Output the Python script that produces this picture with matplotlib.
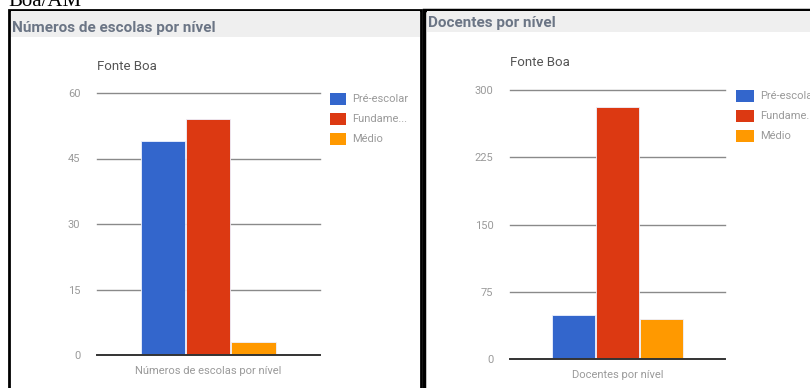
import matplotlib
matplotlib.use("Agg")
import matplotlib.pyplot as plt
from matplotlib.patches import Rectangle
from matplotlib import font_manager

W, H = 810, 388
fig = plt.figure(figsize=(W / 100, H / 100), dpi=100)

avail = {f.name for f in font_manager.fontManager.ttflist}
FONT = "Liberation Sans Narrow" if "Liberation Sans Narrow" in avail else "Roboto"

# ---- data ----
series = ["Pré-escolar", "Fundame...", "Médio"]
colors = ["#3366cc", "#dc3912", "#ff9900"]
escolas_vals = [49, 54, 3]
escolas_ticks = [0, 15, 30, 45, 60]
docentes_vals = [49, 281, 45]
docentes_ticks = [0, 75, 150, 225, 300]

def fx(px):
    return px / W

def fy(py):
    return 1 - py / H

def frect(x0, y0, x1, y1, z=-2, **kw):
    r = Rectangle((fx(x0), fy(y1)), fx(x1) - fx(x0), fy(y0) - fy(y1),
                  transform=fig.transFigure, figure=fig, zorder=z, **kw)
    fig.patches.append(r)

# outer header text (clipped)
fig.text(fx(8), fy(2), "Boa/AM", family="Liberation Serif", fontsize=15, color="black",
         va="center", ha="left")

# panels
frect(9, 10, 421, 400, facecolor="white", edgecolor="black", linewidth=2)
frect(11, 11, 420, 37, facecolor="#efefef", edgecolor="none")
frect(424, 10, 830, 400, facecolor="white", edgecolor="black", linewidth=2.5)
frect(427, 11, 830, 32, facecolor="#efefef", edgecolor="none")

fig.text(fx(12), fy(32), "Números de escolas por nível", fontsize=11, fontweight="bold",
         color="#6b7585", family="Roboto", va="baseline", ha="left")
fig.text(fx(428), fy(27), "Docentes por nível", fontsize=11, fontweight="bold",
         color="#6b7585", family="Roboto", va="baseline", ha="left")

def chart(x0, x1, ytop, ybot, vals, ticks, xlabel, title_xy, xlabel_y, leg_x, leg_y0, leg_dy, sq):
    ax = fig.add_axes([fx(x0), fy(ybot), fx(x1) - fx(x0), fy(ytop) - fy(ybot)])
    ax.set_zorder(1)
    ax.set_xlim(0, 1)
    ax.set_ylim(ticks[0], ticks[-1])
    centers = [0.296, 0.498, 0.703]
    for c, v, col in zip(centers, vals, colors):
        ax.bar(c, v, width=0.2, color=col, edgecolor="#eef2ff", linewidth=0.6, zorder=3)
    for t in ticks[1:]:
        ax.axhline(t, color="#8a8a8a", linewidth=1.0, zorder=1, clip_on=False)
    ax.axhline(ticks[0], color="#333333", linewidth=1.4, zorder=4, clip_on=False)
    for s in ax.spines.values():
        s.set_visible(False)
    ax.set_xticks([])
    ax.set_yticks(ticks)
    ax.set_yticklabels([str(t) for t in ticks], family=FONT, fontsize=8, color="#9a9a9a")
    ax.tick_params(axis="y", length=0, pad=12)
    ax.patch.set_alpha(0)
    fig.text(fx((x0 + x1) / 2), fy(xlabel_y), xlabel, family=FONT, fontsize=8, color="#9a9a9a",
             ha="center", va="center")
    fig.text(fx(title_xy[0]), fy(title_xy[1]), "Fonte Boa", family=FONT, fontsize=9.5,
             color="#555555", ha="left", va="center")
    for i, (name, col) in enumerate(zip(series, colors)):
        yy = leg_y0 + i * leg_dy
        frect(leg_x, yy, leg_x + sq[0], yy + sq[1], z=2, facecolor=col, edgecolor="none")
        fig.text(fx(leg_x + sq[0] + 6), fy(yy + sq[1] / 2), name, family=FONT, fontsize=8,
                 color="#9a9a9a", ha="left", va="center")
    return ax

chart(97, 320, 93, 355, escolas_vals, escolas_ticks, "Números de escolas por nível",
      (97, 66), 371, 330, 93, 20, (16, 12))
chart(510, 725, 90, 359, docentes_vals, docentes_ticks, "Docentes por nível",
      (510, 62), 375, 736, 90, 20, (18, 12))

fig.savefig("out.png", dpi=100)
